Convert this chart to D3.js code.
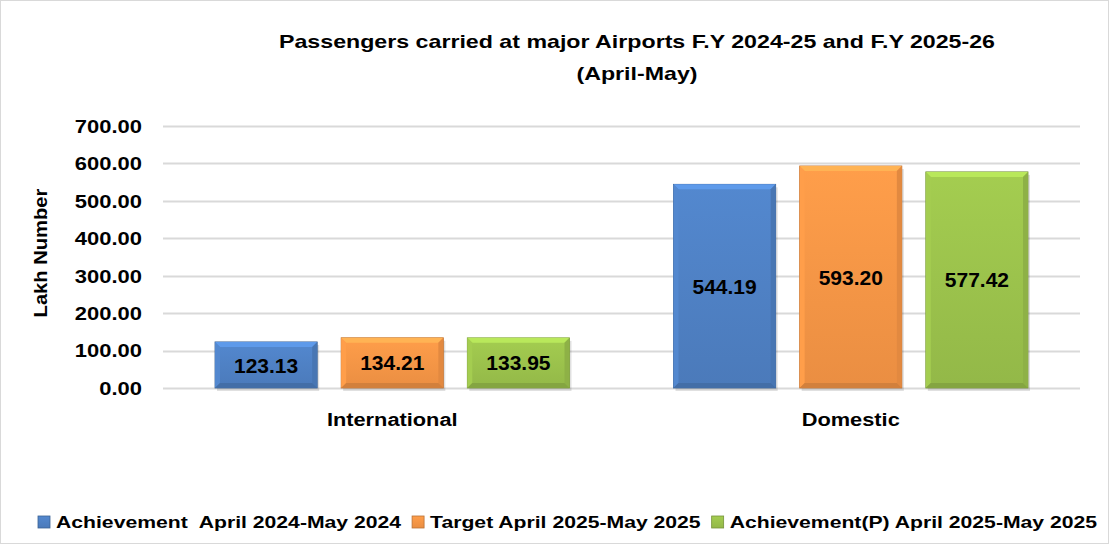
<!DOCTYPE html>
<html>
<head>
<meta charset="utf-8">
<script src="https://cdn.jsdelivr.net/npm/d3@7"></script>
<style>
  body { margin: 0; background: #fff; }
  text { font-family: "Liberation Sans", Arial, sans-serif; font-weight: bold; fill: #000; }
</style>
</head>
<body>
<div id="chart"></div>
<script>
var categories = ["International", "Domestic"];
var seriesNames = ["Achievement  April 2024-May 2024", "Target April 2025-May 2025", "Achievement(P) April 2025-May 2025"];
var achieved2024 = [123.13, 544.19];
var target2025 = [134.21, 593.20];
var achieved2025 = [133.95, 577.42];
var yTicks = [0, 100, 200, 300, 400, 500, 600, 700];

var colors = ["#4f81c4", "#f79646", "#9bc24c"];
var series = [achieved2024, target2025, achieved2025];

var W = 1111, H = 544;
var margin = {top: 126, right: 31, bottom: 156, left: 163},
    width = W - margin.left - margin.right,
    height = H - margin.top - margin.bottom;

var svg = d3.select("#chart").append("svg")
    .attr("width", W)
    .attr("height", H);

svg.append("rect")
    .attr("x", 0.5).attr("y", 0.5)
    .attr("width", W - 3).attr("height", H - 1)
    .attr("fill", "#fff").attr("stroke", "#d9d9d9");

// the original font is wider than what we have, so stretch the text
function stretch(sel, k) {
    sel.each(function() {
        var len = this.getComputedTextLength();
        d3.select(this).attr("textLength", len * k).attr("lengthAdjust", "spacingAndGlyphs");
    });
}

// title
var title = svg.append("text")
    .attr("text-anchor", "middle")
    .style("font-size", "19px");
title.append("tspan").attr("x", 637).attr("y", 48)
    .text("Passengers carried at major Airports F.Y 2024-25 and F.Y 2025-26");
title.append("tspan").attr("x", 637).attr("y", 80).text("(April-May)");
stretch(title.selectAll("tspan"), 1.22);

var g = svg.append("g")
    .attr("transform", "translate(" + margin.left + "," + margin.top + ")");

var y = d3.scaleLinear().domain([0, 700]).range([height, 0]);
var x0 = d3.scaleBand().domain(categories).range([0, width]);
var x1 = d3.scaleBand().domain(d3.range(series.length))
    .range([52, x0.bandwidth() - 52]).paddingInner(0.19);

// gridlines
g.selectAll(".grid")
    .data(yTicks)
    .join("line")
    .attr("class", "grid")
    .attr("x1", 0).attr("x2", width)
    .attr("y1", function(d){ return Math.round(y(d)) + 0.5; })
    .attr("y2", function(d){ return Math.round(y(d)) + 0.5; })
    .attr("stroke", "#d9d9d9")
    .attr("stroke-width", 2);

var yAxis = d3.axisLeft(y).tickValues(yTicks).tickSize(0).tickPadding(21)
    .tickFormat(d3.format(".2f"));
var ya = g.append("g").call(yAxis);
ya.select(".domain").remove();
ya.selectAll("text").style("font-size", "18px").attr("dy", "0.35em");
stretch(ya.selectAll("text"), 1.22);

var ylab = svg.append("text")
    .attr("transform", "translate(47," + (margin.top + height / 2 - 4) + ") rotate(-90)")
    .attr("text-anchor", "middle")
    .style("font-size", "18px")
    .text("Lakh Number");
stretch(ylab, 1.12);

// category labels
var cats = g.selectAll(".cat")
    .data(categories)
    .join("text")
    .attr("class", "cat")
    .attr("x", function(d){ return x0(d) + x0.bandwidth() / 2; })
    .attr("y", height + 38)
    .attr("text-anchor", "middle")
    .style("font-size", "18px")
    .text(function(d){ return d; });
stretch(cats, 1.21);

// bars
var defs = svg.append("defs");
colors.forEach(function(c, i) {
    var grad = defs.append("linearGradient").attr("id", "grad" + i)
        .attr("x1", 0).attr("y1", 0).attr("x2", 0).attr("y2", 1);
    grad.append("stop").attr("offset", "0%").attr("stop-color", d3.color(c).brighter(0.15));
    grad.append("stop").attr("offset", "100%").attr("stop-color", d3.color(c).darker(0.15));
});

var barData = [];
series.forEach(function(vals, s) {
    vals.forEach(function(v, c) {
        barData.push({s: s, cat: categories[c], value: v});
    });
});

var bars = g.selectAll(".bar")
    .data(barData)
    .join("g")
    .attr("class", "bar")
    .attr("transform", function(d){ return "translate(" + (x0(d.cat) + x1(d.s)) + ",0)"; });

var bw = x1.bandwidth(), bev = 5;

// shadow
bars.append("rect")
    .attr("x", 2).attr("y", function(d){ return y(d.value) + 3; })
    .attr("width", bw).attr("height", function(d){ return height - y(d.value); })
    .attr("fill", "#000").attr("opacity", 0.12);

bars.append("rect")
    .attr("x", 0).attr("y", function(d){ return y(d.value); })
    .attr("width", bw).attr("height", function(d){ return height - y(d.value); })
    .attr("fill", function(d){ return "url(#grad" + d.s + ")"; })
    .attr("stroke", function(d){ return d3.color(colors[d.s]).darker(0.8); })
    .attr("stroke-width", 0.8);

// bevel edges
function bevel(side) {
    return function(d) {
        var t = y(d.value), b = height;
        var p;
        if (side == "top") p = [[0, t], [bw, t], [bw - bev, t + bev], [bev, t + bev]];
        else if (side == "left") p = [[0, t], [bev, t + bev], [bev, b - bev], [0, b]];
        else if (side == "right") p = [[bw, t], [bw, b], [bw - bev, b - bev], [bw - bev, t + bev]];
        else p = [[0, b], [bev, b - bev], [bw - bev, b - bev], [bw, b]];
        return p.join(" ");
    };
}
bars.append("polygon").attr("points", bevel("top"))
    .attr("fill", function(d){ return d3.color(colors[d.s]).brighter(0.5); });
bars.append("polygon").attr("points", bevel("left"))
    .attr("fill", function(d){ return d3.color(colors[d.s]).brighter(0.15); });
bars.append("polygon").attr("points", bevel("right"))
    .attr("fill", function(d){ return d3.color(colors[d.s]).darker(0.25); });
bars.append("polygon").attr("points", bevel("bottom"))
    .attr("fill", function(d){ return d3.color(colors[d.s]).darker(0.45); });

bars.append("text")
    .attr("x", bw / 2)
    .attr("y", function(d){ return (y(d.value) + height) / 2; })
    .attr("dy", "0.36em")
    .attr("text-anchor", "middle")
    .style("font-size", "21px")
    .text(function(d){ return d3.format(".2f")(d.value); });

// legend
var legend = svg.append("g").attr("transform", "translate(38,522)");
var lx = 0;
seriesNames.forEach(function(name, i) {
    var item = legend.append("g").attr("transform", "translate(" + lx + ",0)");
    item.append("rect")
        .attr("x", 0).attr("y", -6).attr("width", 12).attr("height", 12)
        .attr("fill", "url(#grad" + i + ")")
        .attr("stroke", d3.color(colors[i]).darker(0.8)).attr("stroke-width", 0.8);
    var t = item.append("text")
        .attr("x", 18).attr("y", 0).attr("dy", "0.36em")
        .style("font-size", "17px")
        .attr("xml:space", "preserve")
        .text(name);
    var len = t.node().getComputedTextLength() * 1.245;
    t.attr("textLength", len).attr("lengthAdjust", "spacingAndGlyphs");
    lx += 18 + len + 11;
});
</script>
</body>
</html>
